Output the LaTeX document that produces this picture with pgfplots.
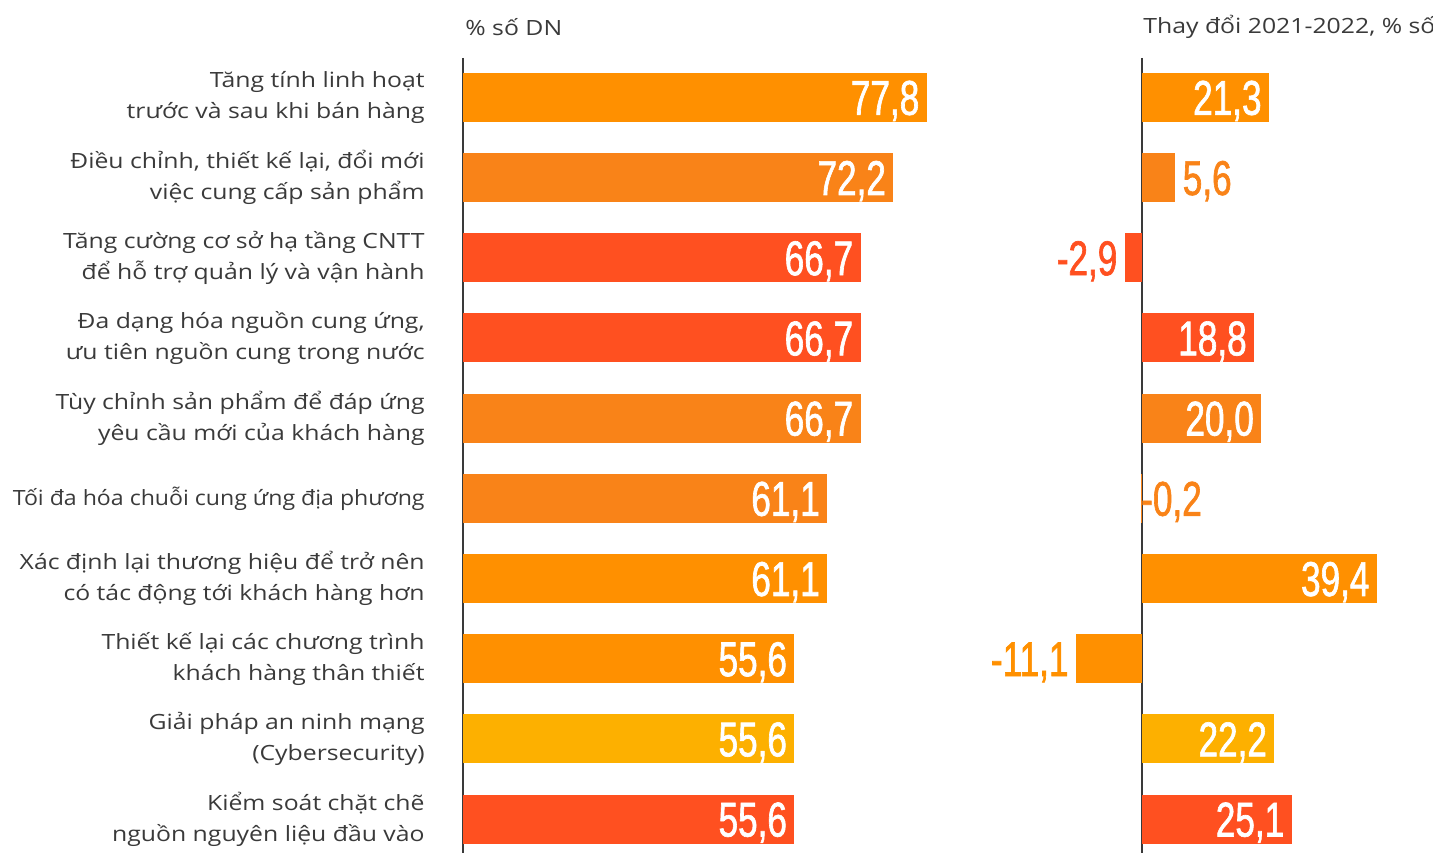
\documentclass[border=0pt]{standalone}
\usepackage{pgfplots}
\pgfplotsset{compat=1.18}
\usepackage{fontspec}
\setmainfont{Open Sans}[FakeStretch=1.18]
\newfontfamily\tdfont{Open Sans}[FakeStretch=1.1]
\newfontfamily\numfont[FakeStretch=0.72, FakeBold=1.3]{Liberation Sans}
\definecolor{cA}{HTML}{FF9000}
\definecolor{cB}{HTML}{F98318}
\definecolor{cC}{HTML}{FF5020}
\definecolor{cD}{HTML}{FDB000}
\definecolor{axc}{HTML}{3A3A3A}
\definecolor{txt}{HTML}{3A3A3A}
\tikzset{numlab/.style={font=\numfont\fontsize{24.4}{24}\selectfont, inner sep=0pt}}
\pgfplotsset{
 inlab/.style={nodes near coords, every node near coord/.append style={numlab, text=white, anchor=base east, xshift=-3.5pt, yshift=-8.75pt}},
 outR/.style={nodes near coords, every node near coord/.append style={numlab, text=#1, anchor=base west, xshift=3.5pt, yshift=-8.75pt}},
 outL/.style={nodes near coords, every node near coord/.append style={numlab, text=#1, anchor=base east, xshift=-3.5pt, yshift=-8.75pt}},
 common/.style={xbar, bar shift=0pt, bar width=24.5pt, scale only axis, y dir=reverse,
   ymin=-0.49, ymax=9.424, height=397.5pt, point meta=explicit symbolic,
   xtick=\empty, axis x line=none, y axis line style={draw=axc, line width=0.8pt},
   major tick length=0pt, clip=false}
}
\begin{document}
\begin{tikzpicture}
\path[use as bounding box] (0,0) rectangle (716.5pt,426.5pt);
\begin{axis}[common, at={(231.5pt,198.75pt)}, anchor=west,
  width=238.4pt, xmin=0, xmax=80, axis y line*=left,
  ytick={0,...,9},
  yticklabels={{Tăng tính linh hoạt\\trước và sau khi bán hàng},
    {Điều chỉnh, thiết kế lại, đổi mới\\việc cung cấp sản phẩm},
    {Tăng cường cơ sở hạ tầng CNTT\\để hỗ trợ quản lý và vận hành},
    {Đa dạng hóa nguồn cung ứng,\\ưu tiên nguồn cung trong nước},
    {Tùy chỉnh sản phẩm để đáp ứng\\yêu cầu mới của khách hàng},
    {\tdfont Tối đa hóa chuỗi cung ứng địa phương},
    {Xác định lại thương hiệu để trở nên\\có tác động tới khách hàng hơn},
    {Thiết kế lại các chương trình\\khách hàng thân thiết},
    {Giải pháp an ninh mạng\\(Cybersecurity)},
    {Kiểm soát chặt chẽ\\nguồn nguyên liệu đầu vào}},
  yticklabel style={align=right, text=txt, inner sep=0pt, xshift=-19pt,
    font=\fontsize{10.5}{15.5}\selectfont}]
\addplot[draw=none, fill=cA, inlab] coordinates {(77.8,0) [{77,8}]};
\addplot[draw=none, fill=cB, inlab] coordinates {(72.2,1) [{72,2}]};
\addplot[draw=none, fill=cC, inlab] coordinates {(66.7,2) [{66,7}]};
\addplot[draw=none, fill=cC, inlab] coordinates {(66.7,3) [{66,7}]};
\addplot[draw=none, fill=cB, inlab] coordinates {(66.7,4) [{66,7}]};
\addplot[draw=none, fill=cB, inlab] coordinates {(61.1,5) [{61,1}]};
\addplot[draw=none, fill=cA, inlab] coordinates {(61.1,6) [{61,1}]};
\addplot[draw=none, fill=cA, inlab] coordinates {(55.6,7) [{55,6}]};
\addplot[draw=none, fill=cD, inlab] coordinates {(55.6,8) [{55,6}]};
\addplot[draw=none, fill=cC, inlab] coordinates {(55.6,9) [{55,6}]};
\end{axis}
\begin{axis}[common, at={(535.25pt,198.75pt)}, anchor=west,
  width=154.96pt, xmin=-12, xmax=40, axis y line*=middle, ytick=\empty]
\addplot[draw=none, fill=cA, inlab] coordinates {(21.3,0) [{21,3}]};
\addplot[draw=none, fill=cB, outR=cB] coordinates {(5.6,1) [{5,6}]};
\addplot[draw=none, fill=cC, outL=cC] coordinates {(-2.9,2) [{-2,9}]};
\addplot[draw=none, fill=cC, inlab] coordinates {(18.8,3) [{18,8}]};
\addplot[draw=none, fill=cB, inlab] coordinates {(20.0,4) [{20,0}]};
\addplot[draw=none, fill=cB, nodes near coords, every node near coord/.append style={numlab, text=cB, anchor=base west, xshift=0pt, yshift=-8.75pt}] coordinates {(-0.2,5) [{-0,2}]};
\addplot[draw=none, fill=cA, inlab] coordinates {(39.4,6) [{39,4}]};
\addplot[draw=none, fill=cA, outL=cA] coordinates {(-11.1,7) [{-11,1}]};
\addplot[draw=none, fill=cD, inlab] coordinates {(22.2,8) [{22,2}]};
\addplot[draw=none, fill=cC, inlab] coordinates {(25.1,9) [{25,1}]};
\end{axis}
\node[anchor=west, text=txt, inner sep=0pt, font=\fontsize{10.5}{12}\selectfont] at (232.5pt,413pt) {\% số DN};
\node[anchor=west, text=txt, inner sep=0pt, font=\fontsize{10.5}{12}\selectfont] at (571.5pt,413pt) {Thay đổi 2021-2022, \% số};
\end{tikzpicture}
\end{document}
